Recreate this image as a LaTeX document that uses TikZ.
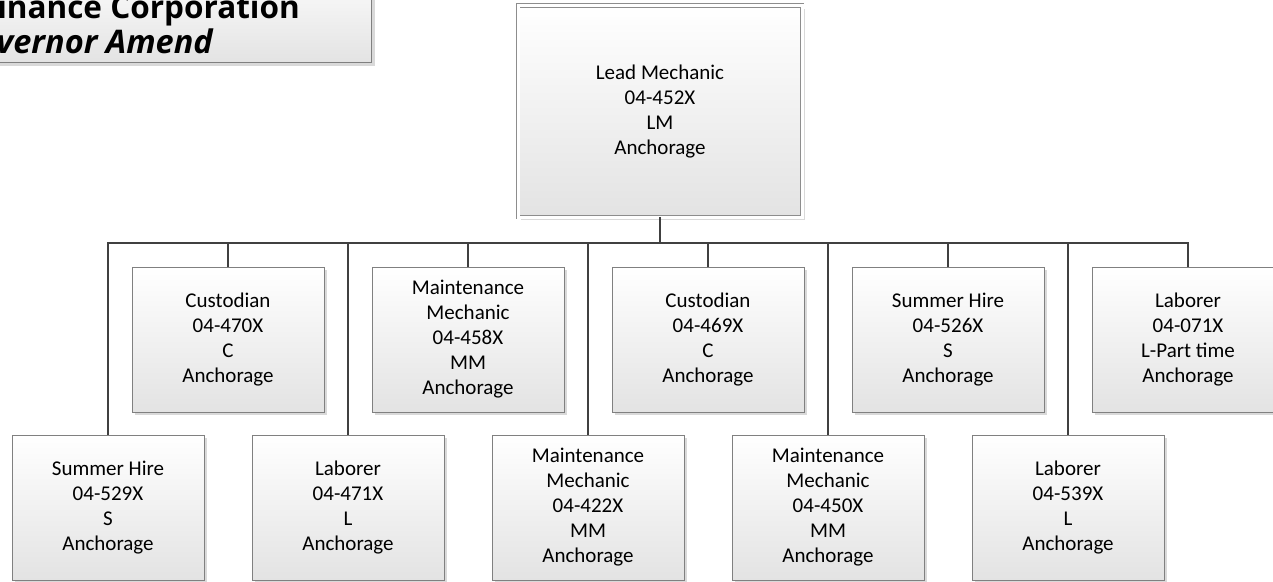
\documentclass[tikz,border=0pt]{standalone}
\usepackage{fontspec}
\setmainfont{Carlito}
\newfontfamily\titlefont{Open Sans}
\usetikzlibrary{shadows}
\definecolor{conncol}{HTML}{404040}
\definecolor{boxline}{HTML}{808080}
\tikzset{
  boxbase/.style={rectangle, draw=boxline, line width=0.9pt, top color=white, bottom color=black!11,
    drop shadow={shadow xshift=3pt, shadow yshift=-3pt, fill=black!15, opacity=1},
    align=center, inner sep=0pt, font=\fontsize{21}{25}\selectfont},
  childbox/.style={boxbase, minimum width=192pt, minimum height=145pt},
  headbox/.style={boxbase, minimum width=284pt, minimum height=211.5pt, double=white, double distance=3pt, draw=boxline!90},
  conn/.style={draw=conncol, line width=2.6pt},
  titletext/.style={font=\titlefont\fontsize{31.5}{36}\selectfont\bfseries, inner sep=0pt, anchor=base east}
}
\begin{document}
\begin{tikzpicture}[x=1pt,y=-1pt]
\useasboundingbox (0,0) rectangle (1273,581);
\clip (0,0) rectangle (1273,581);
\fill[white] (0,0) rectangle (1273,581);

% title box (clipped by the page edge)
\node[boxbase, minimum width=430pt, minimum height=100pt, anchor=south east] (title) at (372,63) {};
\node[titletext] (t1) at (300,18) {Finance Corporation};
\node[titletext, font=\titlefont\fontsize{32.5}{36}\selectfont\bfseries\itshape] (t2) at (213,53) {Governor Amend};

% head
\node[headbox] (lead) at (660,111.25) {Lead Mechanic\\04-452X\\LM\\Anchorage};
\coordinate (bus) at (660,243);

% upper row
\node[childbox] (c470) at (228,339.5) {Custodian\\04-470X\\C\\Anchorage};
\node[childbox] (m458) at (468,339.5) {Maintenance\\Mechanic\\04-458X\\MM\\Anchorage};
\node[childbox] (c469) at (708,339.5) {Custodian\\04-469X\\C\\Anchorage};
\node[childbox] (s526) at (948,339.5) {Summer Hire\\04-526X\\S\\Anchorage};
\node[childbox] (l071) at (1188,339.5) {Laborer\\04-071X\\L-Part time\\Anchorage};

% lower row
\node[childbox] (s529) at (108,507.5) {Summer Hire\\04-529X\\S\\Anchorage};
\node[childbox] (l471) at (348,507.5) {Laborer\\04-471X\\L\\Anchorage};
\node[childbox] (m422) at (588,507.5) {Maintenance\\Mechanic\\04-422X\\MM\\Anchorage};
\node[childbox] (m450) at (828,507.5) {Maintenance\\Mechanic\\04-450X\\MM\\Anchorage};
\node[childbox] (l539) at (1068,507.5) {Laborer\\04-539X\\L\\Anchorage};

% connectors
\draw[conn] (lead.south) -- (bus);
\draw[conn, line cap=rect] (s529.north |- bus) -- (l071.north |- bus);
\foreach \n in {c470,m458,c469,s526,l071,s529,l471,m422,m450,l539}
  \draw[conn] (\n.north) -- (\n.north |- bus);
\end{tikzpicture}
\end{document}
